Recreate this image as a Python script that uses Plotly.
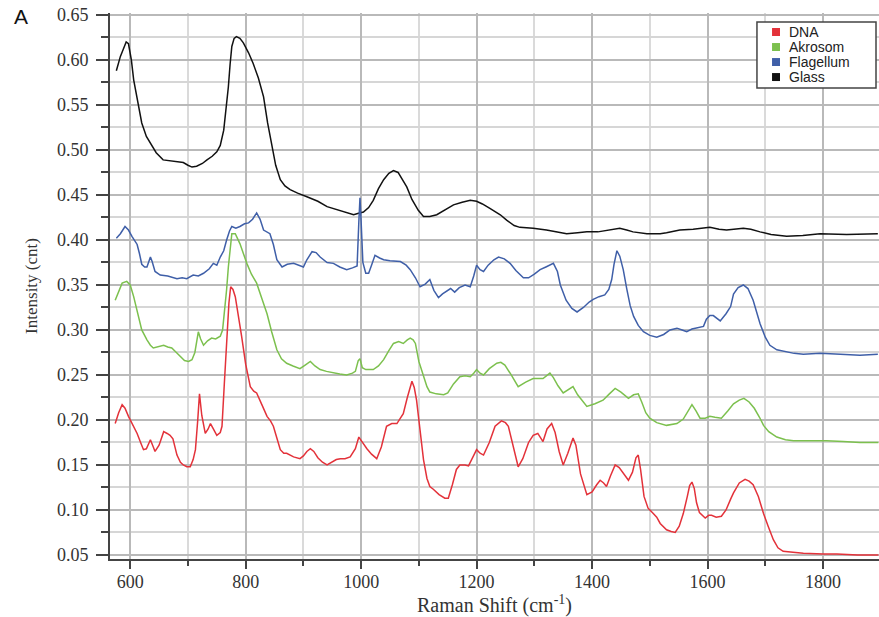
import plotly.graph_objects as go

# ---------------- data ----------------
glass_x = [576, 583, 588, 593, 597, 602, 606, 612, 620, 628, 635, 645, 657, 670, 680, 692, 700, 707, 715, 725,
           733, 742, 750, 756, 762, 766, 770, 773, 776, 780, 784, 790, 796, 805, 813, 822, 831, 838, 845, 852,
           860, 868, 877, 890, 906, 925, 941, 960, 975, 987, 997, 1004, 1013, 1021, 1030, 1039, 1048, 1056, 1064,
           1072, 1079, 1088, 1099, 1108, 1119, 1131, 1148, 1160, 1175, 1189, 1200, 1210, 1223, 1241, 1252, 1265,
           1275, 1298, 1321, 1340, 1356, 1375, 1391, 1410, 1431, 1448, 1460, 1471, 1495, 1518, 1529, 1552, 1575,
           1604, 1620, 1633, 1662, 1675, 1691, 1710, 1737, 1765, 1795, 1841, 1895]
glass_y = [0.588, 0.604, 0.612, 0.620, 0.618, 0.600, 0.578, 0.556, 0.530, 0.515, 0.508, 0.497, 0.489, 0.488,
           0.487, 0.486, 0.483, 0.481, 0.482, 0.485, 0.489, 0.493, 0.498, 0.505, 0.522, 0.545, 0.570, 0.595,
           0.615, 0.624, 0.626, 0.624, 0.619, 0.608, 0.596, 0.580, 0.559, 0.530, 0.507, 0.483, 0.467, 0.460,
           0.456, 0.452, 0.448, 0.443, 0.437, 0.433, 0.430, 0.428, 0.430, 0.431, 0.436, 0.444, 0.457, 0.467,
           0.474, 0.477, 0.475, 0.467, 0.459, 0.445, 0.433, 0.426, 0.426, 0.428, 0.435, 0.439, 0.442, 0.444,
           0.443, 0.440, 0.435, 0.428, 0.422, 0.416, 0.414, 0.413, 0.411, 0.409, 0.407, 0.408, 0.409, 0.409,
           0.411, 0.413, 0.411, 0.409, 0.407, 0.407, 0.408, 0.411, 0.412, 0.414, 0.412, 0.411, 0.413, 0.412,
           0.409, 0.406, 0.404, 0.405, 0.407, 0.406, 0.407]

flag_x = [576, 583, 591, 597, 603, 612, 616, 620, 625, 629, 635, 638, 643, 652, 665, 681, 690, 698, 709, 718,
          727, 737, 744, 750, 756, 762, 767, 772, 776, 783, 790, 798, 805, 812, 819, 825, 831, 837, 842, 848,
          854, 863, 872, 883, 892, 900, 906, 915, 922, 929, 941, 952, 963, 975, 985, 993, 996, 998, 1000, 1003,
          1008, 1013, 1018, 1024, 1032, 1039, 1050, 1060, 1068, 1078, 1085, 1094, 1102, 1111, 1119, 1126, 1134,
          1141, 1148, 1155, 1162, 1170, 1180, 1189, 1195, 1200, 1206, 1212, 1220, 1230, 1238, 1248, 1258, 1268,
          1281, 1290, 1300, 1310, 1320, 1327, 1333, 1340, 1345, 1355, 1365, 1374, 1385, 1395, 1402, 1412, 1422,
          1429, 1434, 1438, 1443, 1448, 1454, 1460, 1466, 1472, 1480, 1489, 1500, 1512, 1524, 1535, 1547, 1556,
          1564, 1573, 1581, 1593, 1598, 1604, 1610, 1616, 1622, 1632, 1640, 1645, 1653, 1662, 1670, 1679, 1691,
          1700, 1708, 1720, 1737, 1750, 1766, 1795, 1830, 1864, 1895]
flag_y = [0.402, 0.407, 0.415, 0.411, 0.404, 0.395, 0.385, 0.373, 0.370, 0.370, 0.381, 0.376, 0.365, 0.361,
          0.360, 0.357, 0.358, 0.357, 0.361, 0.360, 0.363, 0.368, 0.374, 0.372, 0.381, 0.388, 0.400, 0.410,
          0.415, 0.413, 0.415, 0.418, 0.419, 0.423, 0.430, 0.423, 0.411, 0.409, 0.407, 0.395, 0.378, 0.370,
          0.373, 0.374, 0.372, 0.370, 0.378, 0.387, 0.386, 0.381, 0.375, 0.374, 0.370, 0.367, 0.369, 0.371,
          0.420, 0.447, 0.420, 0.375, 0.363, 0.363, 0.372, 0.383, 0.380, 0.378, 0.377, 0.376, 0.376, 0.372,
          0.367, 0.358, 0.348, 0.351, 0.356, 0.344, 0.336, 0.340, 0.343, 0.346, 0.342, 0.347, 0.350, 0.348,
          0.360, 0.372, 0.367, 0.365, 0.372, 0.378, 0.381, 0.379, 0.374, 0.366, 0.358, 0.358, 0.362, 0.367,
          0.370, 0.372, 0.374, 0.365, 0.350, 0.333, 0.324, 0.320, 0.325, 0.331, 0.334, 0.337, 0.339, 0.345,
          0.356, 0.373, 0.388, 0.382, 0.367, 0.346, 0.327, 0.315, 0.305, 0.298, 0.294, 0.292, 0.295, 0.300,
          0.302, 0.300, 0.298, 0.301, 0.302, 0.304, 0.312, 0.316, 0.316, 0.313, 0.310, 0.318, 0.326, 0.340,
          0.347, 0.350, 0.346, 0.333, 0.307, 0.292, 0.283, 0.278, 0.276, 0.274, 0.273, 0.274, 0.273, 0.272,
          0.273]

akro_x = [574, 580, 586, 594, 600, 606, 612, 620, 629, 635, 640, 648, 658, 665, 672, 680, 687, 694, 701, 707,
          712, 718, 722, 727, 734, 741, 748, 756, 760, 764, 767, 770, 773, 776, 782, 786, 790, 796, 802, 810,
          819, 828, 837, 845, 854, 862, 871, 882, 894, 903, 912, 920, 929, 940, 952, 963, 975, 985, 990, 995,
          998, 1002, 1008, 1021, 1030, 1039, 1048, 1056, 1065, 1073, 1080, 1085, 1090, 1094, 1100, 1108, 1114,
          1119, 1130, 1143, 1150, 1160, 1171, 1180, 1189, 1195, 1200, 1206, 1212, 1222, 1235, 1242, 1249, 1260,
          1272, 1285, 1298, 1315, 1322, 1327, 1333, 1341, 1350, 1358, 1367, 1375, 1385, 1391, 1405, 1419, 1430,
          1440, 1450, 1463, 1472, 1480, 1486, 1493, 1500, 1512, 1529, 1540, 1547, 1558, 1566, 1573, 1580, 1587,
          1596, 1604, 1613, 1624, 1635, 1645, 1655, 1663, 1672, 1681, 1690, 1697, 1706, 1720, 1735, 1749, 1775,
          1806, 1835, 1864, 1896]
akro_y = [0.333, 0.342, 0.352, 0.354, 0.350, 0.337, 0.322, 0.300, 0.289, 0.283, 0.280, 0.281, 0.283, 0.281,
          0.280, 0.275, 0.270, 0.266, 0.265, 0.267, 0.275, 0.298, 0.290, 0.283, 0.288, 0.291, 0.290, 0.293,
          0.300, 0.322, 0.345, 0.370, 0.392, 0.407, 0.407, 0.402, 0.396, 0.385, 0.374, 0.362, 0.352, 0.335,
          0.318, 0.298, 0.278, 0.268, 0.263, 0.260, 0.257, 0.261, 0.265, 0.260, 0.256, 0.254, 0.252, 0.251,
          0.250, 0.252, 0.254, 0.266, 0.268, 0.258, 0.256, 0.256, 0.260, 0.267, 0.277, 0.285, 0.287, 0.285,
          0.289, 0.291, 0.289, 0.285, 0.265, 0.248, 0.237, 0.231, 0.229, 0.228, 0.230, 0.240, 0.248, 0.249,
          0.248, 0.252, 0.256, 0.252, 0.250, 0.257, 0.263, 0.264, 0.261, 0.250, 0.237, 0.242, 0.246, 0.246,
          0.249, 0.252, 0.247, 0.238, 0.230, 0.233, 0.237, 0.228, 0.219, 0.215, 0.218, 0.222, 0.229, 0.235,
          0.231, 0.224, 0.228, 0.229, 0.220, 0.208, 0.202, 0.197, 0.194, 0.195, 0.196, 0.201, 0.210, 0.217,
          0.210, 0.202, 0.202, 0.204, 0.203, 0.202, 0.210, 0.218, 0.222, 0.224, 0.220, 0.213, 0.203, 0.194,
          0.187, 0.181, 0.178, 0.177, 0.177, 0.177, 0.176, 0.175, 0.175]

dna_x = [574, 580, 586, 591, 597, 605, 612, 618, 623, 628, 635, 640, 643, 650, 658, 664, 669, 674, 681, 687,
         692, 698, 704, 709, 713, 717, 720, 724, 730, 735, 739, 744, 750, 756, 759, 763, 767, 771, 774, 778,
         782, 787, 793, 800, 808, 814, 819, 828, 837, 843, 848, 854, 860, 866, 871, 883, 894, 900, 906, 912,
         918, 925, 933, 941, 950, 957, 964, 972, 981, 990, 996, 1002, 1010, 1018, 1027, 1035, 1044, 1053, 1062,
         1068, 1073, 1080, 1088, 1092, 1096, 1102, 1108, 1114, 1119, 1125, 1135, 1145, 1151, 1158, 1165, 1171,
         1180, 1186, 1193, 1200, 1206, 1212, 1222, 1232, 1243, 1250, 1255, 1262, 1272, 1280, 1290, 1298, 1306,
         1315, 1322, 1330, 1336, 1343, 1350, 1358, 1367, 1372, 1380, 1391, 1400, 1408, 1414, 1420, 1425, 1432,
         1440, 1447, 1455, 1463, 1470, 1476, 1480, 1484, 1490, 1497, 1506, 1512, 1518, 1529, 1537, 1544, 1551,
         1558, 1565, 1569, 1573, 1577, 1581, 1586, 1596, 1602, 1607, 1615, 1624, 1632, 1640, 1645, 1655, 1665,
         1672, 1679, 1688, 1697, 1705, 1714, 1722, 1731, 1748, 1766, 1800, 1824, 1860, 1896]
dna_y = [0.196, 0.208, 0.217, 0.213, 0.204, 0.194, 0.185, 0.175, 0.167, 0.168, 0.178, 0.170, 0.165, 0.172,
         0.187, 0.185, 0.183, 0.179, 0.161, 0.153, 0.150, 0.148, 0.148, 0.156, 0.167, 0.200, 0.229, 0.205,
         0.185, 0.190, 0.196, 0.190, 0.183, 0.186, 0.193, 0.240, 0.293, 0.330, 0.348, 0.345, 0.337, 0.318,
         0.293, 0.262, 0.237, 0.232, 0.230, 0.217, 0.204, 0.199, 0.193, 0.180, 0.167, 0.163, 0.163, 0.159,
         0.157, 0.160, 0.165, 0.168, 0.165, 0.158, 0.153, 0.150, 0.153, 0.156, 0.157, 0.157, 0.159, 0.168,
         0.181, 0.175, 0.168, 0.162, 0.157, 0.170, 0.193, 0.196, 0.196, 0.202, 0.207, 0.225, 0.243, 0.236,
         0.222, 0.189, 0.156, 0.135, 0.126, 0.123, 0.117, 0.113, 0.113, 0.128, 0.145, 0.150, 0.150, 0.149,
         0.158, 0.167, 0.163, 0.161, 0.175, 0.193, 0.199, 0.197, 0.193, 0.175, 0.148, 0.157, 0.175, 0.183,
         0.185, 0.176, 0.190, 0.196, 0.186, 0.165, 0.150, 0.163, 0.180, 0.172, 0.140, 0.117, 0.120, 0.128,
         0.133, 0.130, 0.126, 0.138, 0.150, 0.147, 0.140, 0.133, 0.142, 0.158, 0.161, 0.145, 0.115, 0.102,
         0.096, 0.092, 0.085, 0.078, 0.076, 0.075, 0.082, 0.096, 0.115, 0.127, 0.131, 0.124, 0.108, 0.097,
         0.091, 0.094, 0.094, 0.092, 0.093, 0.100, 0.112, 0.119, 0.130, 0.134, 0.132, 0.128, 0.115, 0.096,
         0.082, 0.067, 0.058, 0.054, 0.053, 0.052, 0.051, 0.051, 0.050, 0.050]

series_names = ["DNA", "Akrosom", "Flagellum", "Glass"]
series_colors = {"DNA": "#e3323a", "Akrosom": "#7cc04e", "Flagellum": "#3f5fa8", "Glass": "#111111"}
series_data = {"DNA": (dna_x, dna_y), "Akrosom": (akro_x, akro_y),
               "Flagellum": (flag_x, flag_y), "Glass": (glass_x, glass_y)}

y_tick_vals = [0.05, 0.10, 0.15, 0.20, 0.25, 0.30, 0.35, 0.40, 0.45, 0.50, 0.55, 0.60, 0.65]
x_tick_vals = [600, 800, 1000, 1200, 1400, 1600, 1800]

# ---------------- figure ----------------
fig = go.Figure()

# draw order: Glass at the bottom, DNA on top
for name in ["Glass", "Flagellum", "Akrosom", "DNA"]:
    xs, ys = series_data[name]
    fig.add_trace(go.Scatter(x=xs, y=ys, mode="lines", name=name, showlegend=False,
                             line=dict(color=series_colors[name], width=1.5)))

serif = "Liberation Serif, Times New Roman, serif"
sans = "Liberation Sans, Arial, sans-serif"

# compact legend box (paper coordinates)
leg_x0, leg_x1, leg_y0, leg_y1 = 0.8413, 0.9961, 0.8626, 0.9835
row_h = 0.0275
first_row = 0.9652
shapes = [dict(type="rect", xref="paper", yref="paper", x0=leg_x0, x1=leg_x1, y0=leg_y0, y1=leg_y1,
               fillcolor="white", line=dict(color="#444444", width=1.5), layer="above")]
annotations = []
for i, name in enumerate(series_names):
    yc = first_row - i * row_h
    shapes.append(dict(type="rect", xref="paper", yref="paper", x0=0.8609, x1=0.8713,
                       y0=yc - 0.0073, y1=yc + 0.0073, fillcolor=series_colors[name],
                       line=dict(width=0), layer="above"))
    annotations.append(dict(text=name, xref="paper", yref="paper", x=0.8800, y=yc,
                            xanchor="left", yanchor="middle", showarrow=False,
                            font=dict(family=sans, size=14, color="#222222")))

annotations.append(dict(text="A", xref="paper", yref="paper", x=-0.128, y=0.994,
                        xanchor="left", yanchor="middle", showarrow=False,
                        font=dict(family=sans, size=21, color="#111111")))

fig.update_layout(
    width=879, height=617,
    margin=dict(l=110, r=0, t=13, b=58),
    paper_bgcolor="white", plot_bgcolor="white",
    font=dict(family=serif, size=17, color="#333333"),
    showlegend=False,
    xaxis=dict(
        range=[565, 1897], tickmode="array", tickvals=x_tick_vals,
        ticks="outside", ticklen=8, tickwidth=1.5, tickcolor="#444444",
        showline=True, linecolor="#444444", linewidth=2,
        showgrid=True, gridcolor="#b9b9b9", gridwidth=1.5,
        minor=dict(dtick=100, tick0=500, ticks="outside", ticklen=5, tickwidth=1.5, tickcolor="#444444",
                   showgrid=True, gridcolor="#dadada", gridwidth=1.5),
        zeroline=False, ticklabelstandoff=-3,
        title=dict(text="Raman Shift (cm<sup>-1</sup>)", font=dict(family=serif, size=20), standoff=7),
        tickfont=dict(family=serif, size=18),
    ),
    yaxis=dict(
        range=[0.0455, 0.6522], tickmode="array", tickvals=y_tick_vals, tickformat=".2f",
        ticks="outside", ticklen=12, tickwidth=1.5, tickcolor="#444444",
        showline=True, linecolor="#444444", linewidth=2,
        showgrid=True, gridcolor="#b9b9b9", gridwidth=1.5,
        minor=dict(dtick=0.025, tick0=0.025, ticks="outside", ticklen=7, tickwidth=1.5, tickcolor="#444444",
                   showgrid=True, gridcolor="#d6d6d6", gridwidth=1.5),
        zeroline=False, ticklabelstandoff=4,
        title=dict(text="Intensity (cnt)", font=dict(family=serif, size=17), standoff=15),
        tickfont=dict(family=serif, size=18),
    ),
    shapes=shapes,
    annotations=annotations,
)

fig.write_html("out.html", config={"displayModeBar": False},
               post_script="document.body.style.margin='0';document.body.style.padding='0';"
                           "document.documentElement.style.overflow='hidden';")
